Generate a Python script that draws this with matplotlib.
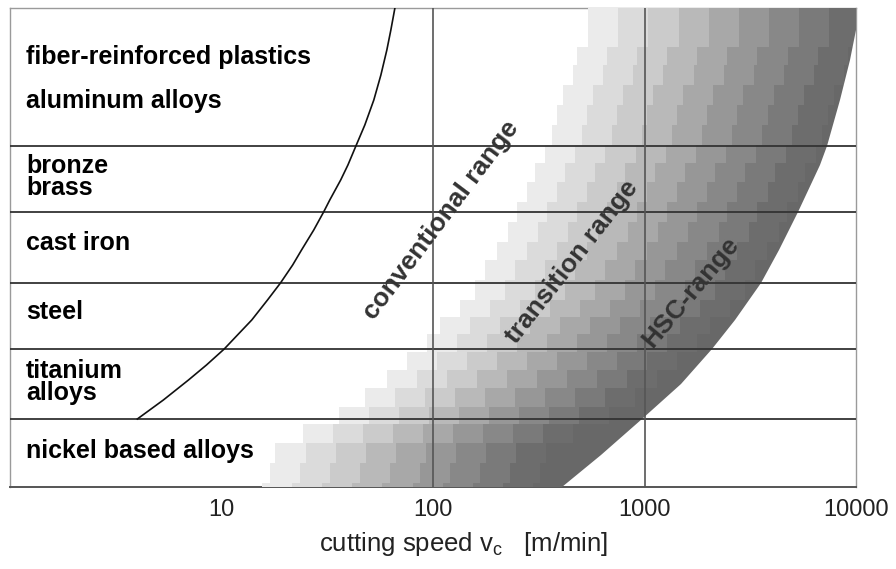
import matplotlib
matplotlib.use('Agg')
import matplotlib.pyplot as plt
import numpy as np
from matplotlib.patches import Polygon
from matplotlib.colors import ListedColormap
from matplotlib.ticker import NullLocator

# ---------------- data ----------------
speed_ticks = [10, 100, 1000, 10000]
tick_labels = ['10', '100', '1000', '10000']

materials = ['fiber-reinforced plastics', 'aluminum alloys', 'bronze\nbrass',
             'cast iron', 'steel', 'titanium\nalloys', 'nickel based alloys']
material_y = [430, 386, 310, 244, 175, 105, 36]          # vertical position (chart units 0..479)
material_boundaries = [341, 275, 204, 138, 68]
grid_speeds = [100, 1000]

# conventional-range limit curve (speed, height)
conv_speed = [66.05, 63.2, 60.5, 56.7, 52.5, 47.6, 43.2, 39.6, 36.6, 32.5, 30.4, 27.3,
              23.9, 21.7, 19.0, 16.5, 13.9, 11.9, 10.3, 8.49, 6.98, 5.31, 4.00]
conv_y = [479, 457, 437, 412, 387, 362, 341, 322, 307, 287, 275, 257,
          237, 222, 204, 187, 167, 152, 138, 122, 107, 87, 68]

# HSC upper limit curve (speed, height)
hsc_speed = [10100, 10000, 9367, 8401, 7289, 6751, 6256, 5312, 4316, 3546, 2670,
             2077, 1481, 978, 626, 409]
hsc_y = [479, 457, 427, 387, 341, 322, 307, 275, 237, 204, 167, 138, 103, 68, 32, 0]

# stepped shading: row edges (top->bottom) and start speed of the lightest step per row
row_edges = [479, 477, 459, 440, 422, 402, 382, 362, 342, 324, 305, 285, 265, 245,
             227, 207, 187, 170, 153, 135, 117, 99, 80, 63, 44, 24, 4, 0]
row_start = [543, 543, 543, 481, 461, 413, 387, 366, 340, 304, 279, 250, 227, 201,
             176, 158, 134, 108, 93.7, 75.3, 60.5, 47.6, 35.8, 24.2, 18.0, 16.9, 15.6]
step_decades = 0.142
gray_levels = ['#ebebeb', '#dbdbdb', '#cbcbcb', '#b9b9b9', '#a8a8a8',
               '#979797', '#888888', '#7a7a7a', '#6d6d6d', '#686868']

range_labels = ['conventional range', 'transition range', 'HSC-range']
range_x = [109, 456, 1652]
range_y = [267, 225, 195]
range_rot = [53, 52, 50]

# ---------------- figure ----------------
plt.rcParams['font.family'] = ['Liberation Sans', 'DejaVu Sans']
fig = plt.figure(figsize=(8.96, 5.69), dpi=100)
ax = fig.add_axes([10 / 896, (569 - 487) / 569, 846 / 896, 479 / 569])
ax.set_xscale('log')
ax.set_xlim(1, 10000)
ax.set_ylim(0, 479)

# clip polygon bounded by HSC curve
verts = [(0.5, 490), (hsc_speed[0] * 1.05, 490)] + list(zip(hsc_speed, hsc_y)) + \
        [(hsc_speed[-1], -10), (0.5, -10)]
clip = Polygon(verts, closed=True, transform=ax.transData, facecolor='none', edgecolor='none')

cmap = ListedColormap(gray_levels)
n = len(gray_levels)
for r, s in enumerate(row_start):
    ls = np.log10(s)
    xe = [10 ** (ls + k * step_decades) for k in range(n)] + [1e5]
    X = np.array([xe, xe])
    Y = np.array([[row_edges[r + 1]] * (n + 1), [row_edges[r]] * (n + 1)])
    C = np.arange(n)[None, :]
    m = ax.pcolormesh(X, Y, C, cmap=cmap, vmin=-0.5, vmax=n - 0.5, zorder=3,
                      shading='flat', antialiased=False, linewidth=0)
    m.set_clip_path(clip)

# grid lines
for b in material_boundaries:
    ax.axhline(b, color='#333333', lw=1.3, zorder=4)
for g in grid_speeds:
    ax.axvline(g, color='#555555', lw=1.2, zorder=4)

# conventional curve
ax.plot(conv_speed, conv_y, color='#111111', lw=1.2, zorder=5)

# spines
for side in ['left', 'top', 'right']:
    ax.spines[side].set_color('#9a9a9a')
    ax.spines[side].set_linewidth(1.0)
ax.spines['bottom'].set_color('#555555')
ax.spines['bottom'].set_linewidth(1.4)

# ticks
ax.set_xticks(speed_ticks, tick_labels)
ax.xaxis.set_minor_locator(NullLocator())
ax.set_yticks([])
ax.tick_params(axis='x', length=0, pad=8.5, labelsize=17, labelcolor='#222222')

ax.set_xlabel(r'cutting speed v$_\mathregular{c}$   [m/min]', fontsize=18.5, color='#222222')
ax.xaxis.set_label_coords(0.536, -0.089)

# material labels
ytr = ax.get_yaxis_transform()
for name, yv in zip(materials, material_y):
    ax.text(0.019, yv, name, transform=ytr, fontsize=18, fontweight='bold',
            ha='left', va='center', linespacing=0.85, color='black', zorder=6)

# range labels
for t, xv, yv, rot in zip(range_labels, range_x, range_y, range_rot):
    ax.text(xv, yv, t, rotation=rot, rotation_mode='anchor', ha='center', va='center',
            fontsize=19, fontweight='bold', color='#333333', zorder=6)

fig.savefig('out.png', dpi=100)
